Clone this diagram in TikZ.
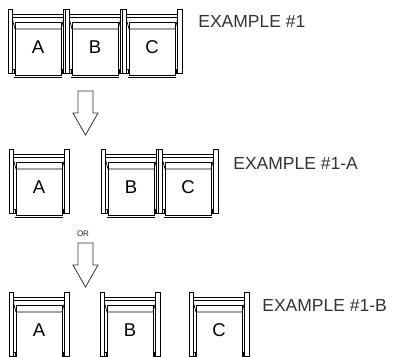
\documentclass[tikz,border=0pt]{standalone}
\usepackage{fontspec}
\setmainfont{Liberation Sans}
\usetikzlibrary{positioning}

\begin{document}
\begin{tikzpicture}[x=1pt, y=-1pt, line width=0.7pt,
  seatlabel/.style={font=\fontsize{18.5}{20}\selectfont, inner sep=0pt},
  exlabel/.style={anchor=west, text=black!80, font=\fontsize{17.5}{20}\selectfont, inner sep=0pt},
  blockarrow/.style={draw=black!80, line width=0.8pt, line join=miter}]
\useasboundingbox (0,0) rectangle (395,356);

% Chairs: x / y / seat / row
\foreach \x/\y/\l/\r in {8/9/A/1, 65/9/B/1, 122/9/C/1,
                         9/149/A/2, 101/149/B/2, 158/149/C/2,
                         9/292/A/3, 100/292/B/3, 189/292/C/3} {
  \begin{scope}[shift={(\x,\y)}]
    % backrest and cushion
    \draw (4,5.5) -- (56,5.5);
    \draw (4,8) -- (56,8);
    \draw (7,13) -- (53,13);
    \draw (4,9) -- (7,20) -- (53,20) -- (56,9);
    % seat
    \draw (7,13) -- (7,66) -- (53,66) -- (53,13);
    \draw (6,68) -- (54,68);
    % armrests
    \draw[fill=white] (0,0) rectangle (4.5,64);
    \draw[fill=white] (55.5,0) rectangle (60,64);
    \draw (4.5,60) -- (6,60) -- (6,64) -- (4.5,64);
    \draw (55.5,60) -- (54,60) -- (54,64) -- (55.5,64);
    \node[seatlabel] (\l\r) at (30,38.5) {\l};
  \end{scope}
}

% Row labels
\node[exlabel] (ex1) at (198,21.5) {EXAMPLE \#1};
\node[exlabel] (ex1a) at (233,163.5) {EXAMPLE \#1-A};
\node[exlabel] (ex1b) at (262,305) {EXAMPLE \#1-B};

% Block arrows between rows
\foreach \d in {0,152} {
  \draw[blockarrow] (78,91+\d) -- (93,91+\d) -- (93,113+\d) -- (98,113+\d)
    -- (85.5,135+\d) -- (73,113+\d) -- (78,113+\d) -- cycle;
}
\node[font=\fontsize{8}{9}\selectfont, text=black!85, inner sep=0pt] (or) at (83,233.5) {OR};
\end{tikzpicture}
\end{document}
